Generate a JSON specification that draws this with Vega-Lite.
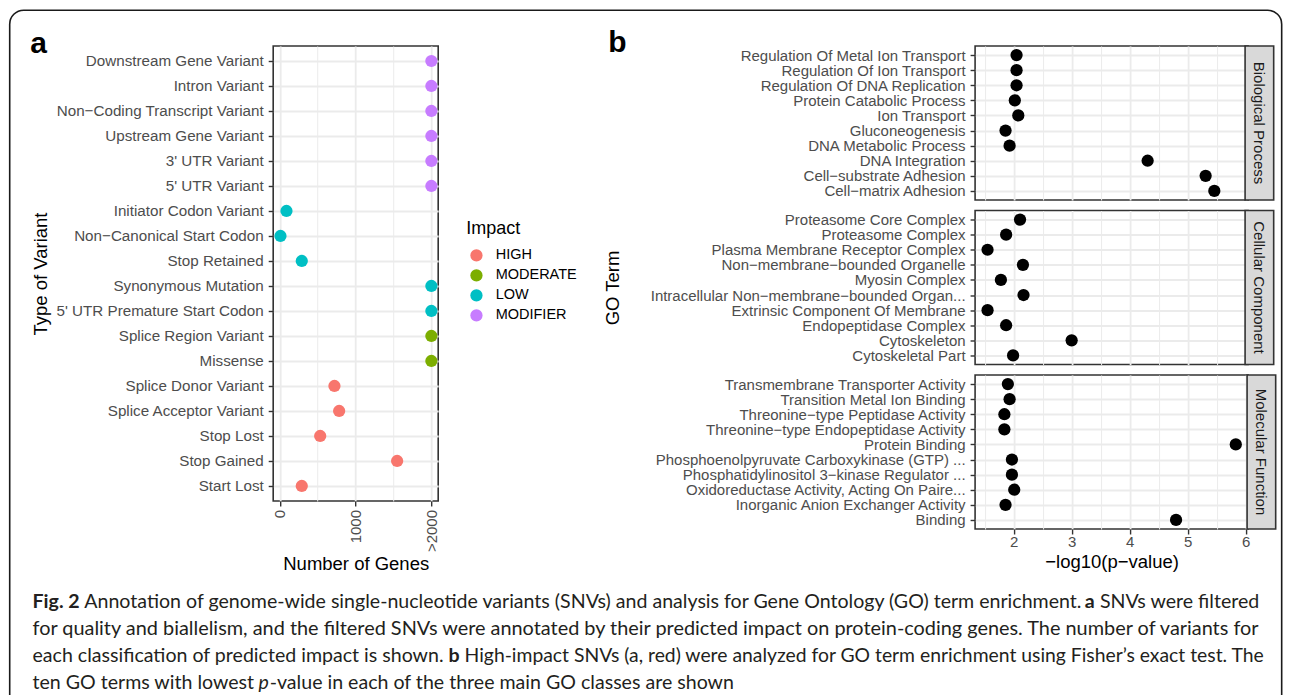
{
  "$schema": "https://vega.github.io/schema/vega-lite/v6.json",
  "background": "white",
  "padding": {"left": 8.7, "top": 9.2, "right": 0, "bottom": 0},
  "datasets": {
    "variants": [
      {"variant": "Downstream Gene Variant", "genes": 2000, "impact": "MODIFIER"},
      {"variant": "Intron Variant", "genes": 2000, "impact": "MODIFIER"},
      {"variant": "Non−Coding Transcript Variant", "genes": 2000, "impact": "MODIFIER"},
      {"variant": "Upstream Gene Variant", "genes": 2000, "impact": "MODIFIER"},
      {"variant": "3' UTR Variant", "genes": 2000, "impact": "MODIFIER"},
      {"variant": "5' UTR Variant", "genes": 2000, "impact": "MODIFIER"},
      {"variant": "Initiator Codon Variant", "genes": 88, "impact": "LOW"},
      {"variant": "Non−Canonical Start Codon", "genes": 9, "impact": "LOW"},
      {"variant": "Stop Retained", "genes": 290, "impact": "LOW"},
      {"variant": "Synonymous Mutation", "genes": 2000, "impact": "LOW"},
      {"variant": "5' UTR Premature Start Codon", "genes": 2000, "impact": "LOW"},
      {"variant": "Splice Region Variant", "genes": 2000, "impact": "MODERATE"},
      {"variant": "Missense", "genes": 2000, "impact": "MODERATE"},
      {"variant": "Splice Donor Variant", "genes": 721, "impact": "HIGH"},
      {"variant": "Splice Acceptor Variant", "genes": 783, "impact": "HIGH"},
      {"variant": "Stop Lost", "genes": 533, "impact": "HIGH"},
      {"variant": "Stop Gained", "genes": 1548, "impact": "HIGH"},
      {"variant": "Start Lost", "genes": 290, "impact": "HIGH"}
    ],
    "go": [
      {"cls": "Biological Process", "term": "Regulation Of Metal Ion Transport", "logp": 2.05},
      {"cls": "Biological Process", "term": "Regulation Of Ion Transport", "logp": 2.05},
      {"cls": "Biological Process", "term": "Regulation Of DNA Replication", "logp": 2.05},
      {"cls": "Biological Process", "term": "Protein Catabolic Process", "logp": 2.02},
      {"cls": "Biological Process", "term": "Ion Transport", "logp": 2.08},
      {"cls": "Biological Process", "term": "Gluconeogenesis", "logp": 1.86},
      {"cls": "Biological Process", "term": "DNA Metabolic Process", "logp": 1.93},
      {"cls": "Biological Process", "term": "DNA Integration", "logp": 4.31},
      {"cls": "Biological Process", "term": "Cell−substrate Adhesion", "logp": 5.31},
      {"cls": "Biological Process", "term": "Cell−matrix Adhesion", "logp": 5.46},
      {"cls": "Cellular Component", "term": "Proteasome Core Complex", "logp": 2.11},
      {"cls": "Cellular Component", "term": "Proteasome Complex", "logp": 1.87},
      {"cls": "Cellular Component", "term": "Plasma Membrane Receptor Complex", "logp": 1.55},
      {"cls": "Cellular Component", "term": "Non−membrane−bounded Organelle", "logp": 2.16},
      {"cls": "Cellular Component", "term": "Myosin Complex", "logp": 1.78},
      {"cls": "Cellular Component", "term": "Intracellular Non−membrane−bounded Organ...", "logp": 2.17},
      {"cls": "Cellular Component", "term": "Extrinsic Component Of Membrane", "logp": 1.55},
      {"cls": "Cellular Component", "term": "Endopeptidase Complex", "logp": 1.87},
      {"cls": "Cellular Component", "term": "Cytoskeleton", "logp": 3.0},
      {"cls": "Cellular Component", "term": "Cytoskeletal Part", "logp": 1.99},
      {"cls": "Molecular Function", "term": "Transmembrane Transporter Activity", "logp": 1.9},
      {"cls": "Molecular Function", "term": "Transition Metal Ion Binding", "logp": 1.93},
      {"cls": "Molecular Function", "term": "Threonine−type Peptidase Activity", "logp": 1.84},
      {"cls": "Molecular Function", "term": "Threonine−type Endopeptidase Activity", "logp": 1.84},
      {"cls": "Molecular Function", "term": "Protein Binding", "logp": 5.83},
      {"cls": "Molecular Function", "term": "Phosphoenolpyruvate Carboxykinase (GTP) ...", "logp": 1.97},
      {"cls": "Molecular Function", "term": "Phosphatidylinositol 3−kinase Regulator ...", "logp": 1.97},
      {"cls": "Molecular Function", "term": "Oxidoreductase Activity, Acting On Paire...", "logp": 2.01},
      {"cls": "Molecular Function", "term": "Inorganic Anion Exchanger Activity", "logp": 1.86},
      {"cls": "Molecular Function", "term": "Binding", "logp": 4.8}
    ],
    "caption": [
      {"seg": "l1a", "line": 1, "text": "Fig. 2"},
      {"seg": "l1b", "line": 1, "text": "Annotation of genome-wide single-nucleotide variants (SNVs) and analysis for Gene Ontology (GO) term enrichment."},
      {"seg": "l1c", "line": 1, "text": "a"},
      {"seg": "l1d", "line": 1, "text": "SNVs were filtered"},
      {"seg": "l2a", "line": 2, "text": "for quality and biallelism, and the filtered SNVs were annotated by their predicted impact on protein-coding genes. The number of variants for"},
      {"seg": "l3a", "line": 3, "text": "each classification of predicted impact is shown."},
      {"seg": "l3b", "line": 3, "text": "b"},
      {"seg": "l3c", "line": 3, "text": "High-impact SNVs (a, red) were analyzed for GO term enrichment using Fisher’s exact test. The"},
      {"seg": "l4a", "line": 4, "text": "ten GO terms with lowest"},
      {"seg": "l4b", "line": 4, "text": "p"},
      {"seg": "l4c", "line": 4, "text": "-value in each of the three main GO classes are shown"}
    ]
  },
  "config": {
    "font": "Liberation Sans",
    "view": {"stroke": "#333333", "strokeWidth": 1.6},
    "axis": {
      "domain": false,
      "labelFont": "Liberation Sans",
      "labelFontSize": 15,
      "labelColor": "#4D4D4D",
      "labelLimit": 400,
      "titleFont": "Liberation Sans",
      "titleFontSize": 18.5,
      "titleFontWeight": "normal",
      "titleColor": "#000000",
      "tickColor": "#333333",
      "tickSize": 5,
      "tickWidth": 1.4,
      "labelPadding": 3.5,
      "gridColor": "#EBEBEB",
      "gridWidth": 1.8,
      "labelFlush": false,
      "labelOverlap": false
    },
    "legend": {"titleFont": "Liberation Sans", "labelFont": "Liberation Sans"},
    "title": {"font": "Liberation Sans", "color": "#000000"}
  },
  "columns": 2,
  "align": "none",
  "spacing": -1253.5,
  "concat": [
    {
      "width": 1272,
      "height": 700,
      "view": {"stroke": "#1A1A1A", "strokeWidth": 1.6, "cornerRadius": 14},
      "data": {"name": "caption"},
      "encoding": {
        "y": {"field": "line", "type": "ordinal", "scale": {"type": "point", "domain": [1, 2, 3, 4], "range": [591.5, 672.5], "padding": 0}, "axis": null},
        "text": {"field": "text"}
      },
      "layer": [
        {"transform": [{"filter": "datum.seg == 'l1a'"}], "mark": {"type": "text", "align": "left", "baseline": "middle", "font": "Lato", "fontSize": 19.6, "fontWeight": "bold", "color": "#231F20", "x": 22.8, "limit": 200}},
        {"transform": [{"filter": "datum.seg == 'l3a' || datum.seg == 'l4a'"}], "mark": {"type": "text", "align": "left", "baseline": "middle", "font": "Lato", "fontSize": 19.6, "color": "#231F20", "x": 22.8, "limit": 1246}},
        {"transform": [{"filter": "datum.seg == 'l2a'"}], "mark": {"type": "text", "align": "left", "baseline": "middle", "font": "Lato", "fontSize": 19.9, "color": "#231F20", "x": 22.8, "limit": 1246}},
        {"transform": [{"filter": "datum.seg == 'l1b'"}], "mark": {"type": "text", "align": "left", "baseline": "middle", "font": "Lato", "fontSize": 19.6, "color": "#231F20", "x": 74.6, "limit": 1050}},
        {"transform": [{"filter": "datum.seg == 'l1c'"}], "mark": {"type": "text", "align": "left", "baseline": "middle", "font": "Lato", "fontSize": 19.6, "fontWeight": "bold", "color": "#231F20", "x": 1075.1, "limit": 100}},
        {"transform": [{"filter": "datum.seg == 'l1d'"}], "mark": {"type": "text", "align": "left", "baseline": "middle", "font": "Lato", "fontSize": 19.6, "color": "#231F20", "x": 1090.2, "limit": 180}},
        {"transform": [{"filter": "datum.seg == 'l3b'"}], "mark": {"type": "text", "align": "left", "baseline": "middle", "font": "Lato", "fontSize": 19.6, "fontWeight": "bold", "color": "#231F20", "x": 438.9, "limit": 100}},
        {"transform": [{"filter": "datum.seg == 'l3c'"}], "mark": {"type": "text", "align": "left", "baseline": "middle", "font": "Lato", "fontSize": 19.35, "color": "#231F20", "x": 454.9, "limit": 815}},
        {"transform": [{"filter": "datum.seg == 'l4b'"}], "mark": {"type": "text", "align": "left", "baseline": "middle", "font": "Lato", "fontSize": 19.6, "fontStyle": "italic", "color": "#231F20", "x": 248.7, "limit": 100}},
        {"transform": [{"filter": "datum.seg == 'l4c'"}], "mark": {"type": "text", "align": "left", "baseline": "middle", "font": "Lato", "fontSize": 19.6, "color": "#231F20", "x": 260, "limit": 1000}}
      ]
    },
    {
      "spacing": 16.8,
      "vconcat": [
        {
          "width": 1,
          "height": 1,
          "view": {"stroke": null},
          "data": {"name": "caption"},
          "transform": [{"filter": "false"}],
          "mark": {"type": "text"},
          "encoding": {"text": {"field": "text"}}
        },
        {
          "spacing": 161.9,
          "hconcat": [
            {
              "width": 165,
              "height": 455,
              "title": {"text": "a", "anchor": "start", "frame": "bounds", "fontSize": 30, "fontWeight": "bold", "baseline": "alphabetic", "offset": 0, "dy": 37, "dx": -1},
              "data": {"name": "variants"},
              "mark": {"type": "circle", "size": 150, "opacity": 1},
              "encoding": {
                "y": {
                  "field": "variant", "type": "nominal", "sort": null,
                  "scale": {"type": "point", "padding": 0.6},
                  "axis": {"title": "Type of Variant", "grid": true, "minExtent": 218, "maxExtent": 218, "titlePadding": 5, "labelPadding": 5, "labelFontSize": 15.2}
                },
                "x": {
                  "field": "genes", "type": "quantitative",
                  "scale": {"domain": [-87, 2090], "nice": false, "zero": false},
                  "axis": {
                    "title": "Number of Genes",
                    "values": [0, 500, 1000, 1500, 2000],
                    "labelExpr": "datum.value == 0 ? '0' : (datum.value == 1000 ? '1000' : (datum.value == 2000 ? '>2000' : ''))",
                    "labelAngle": 270,
                    "titlePadding": 2.5,
                    "gridWidth": {"condition": {"test": "datum.value % 1000 != 0", "value": 1}, "value": 1.8},
                    "tickOpacity": {"condition": {"test": "datum.value % 1000 != 0", "value": 0}, "value": 1}
                  }
                },
                "color": {
                  "field": "impact", "type": "nominal",
                  "scale": {"domain": ["HIGH", "MODERATE", "LOW", "MODIFIER"], "range": ["#F8766D", "#7CAE00", "#00BFC4", "#C77CFF"]},
                  "legend": {
                    "title": "Impact", "orient": "none", "legendX": 456.5, "legendY": 210,
                    "titleFontSize": 18, "titleFontWeight": "normal", "titleColor": "#000000", "titlePadding": 10,
                    "labelFontSize": 14.5, "labelColor": "#000000", "labelOffset": 12, "symbolOffset": 3,
                    "symbolType": "circle", "symbolSize": 150, "symbolStrokeWidth": 0, "rowPadding": 5, "padding": 0
                  }
                }
              }
            },
            {
              "title": {"text": "b", "anchor": "start", "frame": "bounds", "fontSize": 30, "fontWeight": "bold", "baseline": "alphabetic", "offset": 0, "dy": 37, "dx": 5.5},
              "spacing": 8.5,
              "vconcat": [
                {
                  "columns": 2, "align": "none", "spacing": -5,
                  "concat": [
                    {
                      "width": 273, "height": 154,
                      "data": {"name": "go"},
                      "transform": [{"filter": "datum.cls == 'Biological Process'"}],
                      "mark": {"type": "circle", "size": 150, "color": "#000000", "opacity": 1},
                      "encoding": {
                        "y": {"field": "term", "type": "nominal", "sort": null, "scale": {"type": "point", "padding": 0.6},
                          "axis": {"title": "GO Term", "titleOpacity": 0, "grid": true, "minExtent": 330, "maxExtent": 330, "titlePadding": 22.5, "labelPadding": 5}},
                        "x": {"field": "logp", "type": "quantitative", "scale": {"domain": [1.335, 6.042], "nice": false, "zero": false},
                          "axis": {"values": [1.5, 2, 2.5, 3, 3.5, 4, 4.5, 5, 5.5, 6], "labels": false, "ticks": false, "title": null,
                            "gridWidth": {"condition": {"test": "datum.value % 1 != 0", "value": 1}, "value": 1.8}}}
                      }
                    },
                    {
                      "width": 28.6, "height": 154,
                      "view": {"fill": "#D9D9D9", "stroke": "#333333", "strokeWidth": 1.6},
                      "data": {"name": "go"},
                      "transform": [{"filter": "datum.cls == 'Biological Process'"}, {"aggregate": [{"op": "count", "as": "n"}], "groupby": ["cls"]}],
                      "mark": {"type": "text", "angle": 90, "fontSize": 15, "color": "#1A1A1A", "align": "center", "baseline": "middle"},
                      "encoding": {"text": {"field": "cls"}}
                    }
                  ]
                },
                {
                  "columns": 2, "align": "none", "spacing": -5,
                  "concat": [
                    {
                      "width": 273, "height": 154,
                      "data": {"name": "go"},
                      "transform": [{"filter": "datum.cls == 'Cellular Component'"}],
                      "mark": {"type": "circle", "size": 150, "color": "#000000", "opacity": 1},
                      "encoding": {
                        "y": {"field": "term", "type": "nominal", "sort": null, "scale": {"type": "point", "padding": 0.6},
                          "axis": {"title": "GO Term", "grid": true, "minExtent": 330, "maxExtent": 330, "titlePadding": 22.5, "labelPadding": 5}},
                        "x": {"field": "logp", "type": "quantitative", "scale": {"domain": [1.335, 6.042], "nice": false, "zero": false},
                          "axis": {"values": [1.5, 2, 2.5, 3, 3.5, 4, 4.5, 5, 5.5, 6], "labels": false, "ticks": false, "title": null,
                            "gridWidth": {"condition": {"test": "datum.value % 1 != 0", "value": 1}, "value": 1.8}}}
                      }
                    },
                    {
                      "width": 28.6, "height": 154,
                      "view": {"fill": "#D9D9D9", "stroke": "#333333", "strokeWidth": 1.6},
                      "data": {"name": "go"},
                      "transform": [{"filter": "datum.cls == 'Cellular Component'"}, {"aggregate": [{"op": "count", "as": "n"}], "groupby": ["cls"]}],
                      "mark": {"type": "text", "angle": 90, "fontSize": 15, "color": "#1A1A1A", "align": "center", "baseline": "middle"},
                      "encoding": {"text": {"field": "cls"}}
                    }
                  ]
                },
                {
                  "columns": 2, "align": "none", "spacing": -5,
                  "concat": [
                    {
                      "width": 273, "height": 154,
                      "data": {"name": "go"},
                      "transform": [{"filter": "datum.cls == 'Molecular Function'"}],
                      "mark": {"type": "circle", "size": 150, "color": "#000000", "opacity": 1},
                      "encoding": {
                        "y": {"field": "term", "type": "nominal", "sort": null, "scale": {"type": "point", "padding": 0.6},
                          "axis": {"title": "GO Term", "titleOpacity": 0, "grid": true, "minExtent": 330, "maxExtent": 330, "titlePadding": 22.5, "labelPadding": 5}},
                        "x": {"field": "logp", "type": "quantitative", "scale": {"domain": [1.335, 6.042], "nice": false, "zero": false},
                          "axis": {"values": [1.5, 2, 2.5, 3, 3.5, 4, 4.5, 5, 5.5, 6], "title": "−log10(p−value)", "titlePadding": 3.5, "labelPadding": 0.5,
                            "labelExpr": "datum.value % 1 == 0 ? format(datum.value, 'd') : ''",
                            "gridWidth": {"condition": {"test": "datum.value % 1 != 0", "value": 1}, "value": 1.8},
                            "tickOpacity": {"condition": {"test": "datum.value % 1 != 0", "value": 0}, "value": 1}}}
                      }
                    },
                    {
                      "width": 28.6, "height": 154,
                      "view": {"fill": "#D9D9D9", "stroke": "#333333", "strokeWidth": 1.6},
                      "data": {"name": "go"},
                      "transform": [{"filter": "datum.cls == 'Molecular Function'"}, {"aggregate": [{"op": "count", "as": "n"}], "groupby": ["cls"]}],
                      "mark": {"type": "text", "angle": 90, "fontSize": 15, "color": "#1A1A1A", "align": "center", "baseline": "middle"},
                      "encoding": {"text": {"field": "cls"}}
                    }
                  ]
                }
              ]
            }
          ]
        }
      ]
    }
  ]
}
